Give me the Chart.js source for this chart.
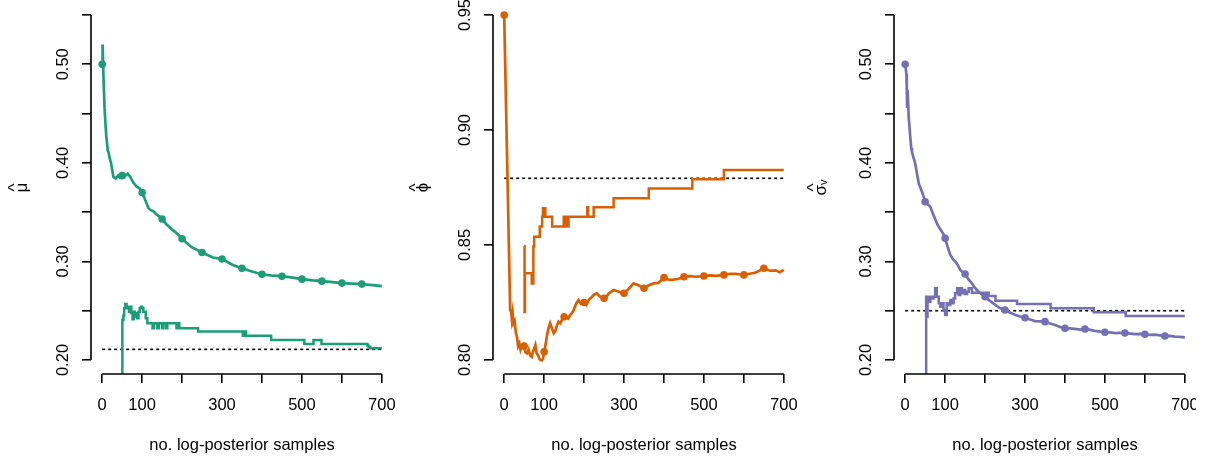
<!DOCTYPE html>
<html>
<head>
<meta charset="utf-8">
<script src="https://cdn.jsdelivr.net/npm/chart.js@4"></script>
<style>
  body { margin: 0; background: #fff; }
  #wrap { position: relative; width: 1210px; height: 457px; overflow: hidden; }
  canvas { position: absolute; top: 0; }
</style>
</head>
<body>
<div id="wrap">
  <canvas id="muChart" width="402" height="457" style="left:0px"></canvas>
  <canvas id="phiChart" width="401" height="457" style="left:402px"></canvas>
  <canvas id="sigmaChart" width="393" height="457" style="left:803px"></canvas>
</div>
<script>
// shared x axis
const xTicks = [0, 100, 200, 300, 400, 500, 600, 700]
const xTickLabels = ['0', '100', '', '300', '', '500', '', '700']
const markerX = [0, 50, 100, 150, 200, 250, 300, 350, 400, 450, 500, 550, 600, 650]

// mu panel
const muYTicks = [0.20, 0.25, 0.30, 0.35, 0.40, 0.45, 0.50, 0.55]
const muYLabels = ['0.20', '', '0.30', '', '0.40', '', '0.50', '']
const muSamples = [0, 1, 3, 6, 10, 14, 16, 18, 22, 28, 34, 40, 44, 50, 58, 64, 70, 78, 86, 94,
  100, 108, 116, 122, 128, 135, 142, 150, 160, 176, 188, 200, 222, 250, 277, 300, 327, 350, 377, 400,
  427, 450, 477, 500, 527, 550, 577, 600, 627, 650, 677, 700]
const muEstimate = [0.500, 0.520, 0.490, 0.455, 0.428, 0.412, 0.411, 0.406, 0.400, 0.386,
  0.384, 0.387, 0.385, 0.387, 0.387, 0.389, 0.386, 0.380, 0.376, 0.374,
  0.370, 0.362, 0.354, 0.352, 0.351, 0.348, 0.346, 0.343, 0.338, 0.332,
  0.328, 0.323, 0.315, 0.309, 0.304, 0.3025, 0.2964, 0.293, 0.2896, 0.287,
  0.2855, 0.285, 0.2835, 0.282, 0.2808, 0.280, 0.279, 0.278, 0.2775, 0.277, 0.276, 0.275]
const muStepSamples = [50, 50.5, 53, 55, 58, 61, 64, 67, 70, 73, 76, 79, 82, 85, 88, 91, 94, 97, 100, 103,
  106, 109, 113, 126, 130, 138, 142, 150, 153, 160, 163, 186, 190, 193, 240, 352, 356, 360, 423, 506,
  529, 549, 664, 667, 671, 700]
const muStep = [0.15, 0.2406, 0.245, 0.2524, 0.2568, 0.2541, 0.2524, 0.249, 0.2541, 0.2475,
  0.2413, 0.249, 0.2475, 0.244, 0.2423, 0.249, 0.2524, 0.2541, 0.2527, 0.249,
  0.249, 0.2423, 0.2372, 0.2321, 0.2372, 0.2321, 0.2372, 0.2321, 0.2372, 0.2321,
  0.2372, 0.2321, 0.2372, 0.2321, 0.2288, 0.2245, 0.2288, 0.2245, 0.2203, 0.2162,
  0.2203, 0.2162, 0.2145, 0.2135, 0.212, 0.212]
const muTrue = 0.2108

// phi panel
const phiYTicks = [0.80, 0.85, 0.90, 0.95]
const phiYLabels = ['0.80', '0.85', '0.90', '0.95']
const phiSamples = [0, 15, 17, 19, 21, 23, 26, 29, 32, 35, 38, 41, 44, 47, 50, 53, 57, 61, 65, 69,
  72, 75, 78, 81, 85, 88, 91, 94, 97, 100, 104, 108, 112, 115, 119, 124, 128, 132, 136, 140,
  145, 150, 155, 160, 165, 170, 174, 180, 186, 192, 200, 206, 212, 220, 226, 232, 240, 250, 256, 262,
  274, 285, 300, 312, 324, 336, 350, 362, 374, 386, 400, 410, 420, 435, 450, 465, 480, 500, 515, 530,
  550, 565, 580, 600, 615, 630, 650, 665, 680, 690, 700]
const phiEstimate = [0.950, 0.8217, 0.822, 0.818, 0.8205, 0.816, 0.817, 0.812, 0.810, 0.806,
  0.8072, 0.8045, 0.806, 0.8058, 0.806, 0.8035, 0.8029, 0.8045, 0.802, 0.8014,
  0.8035, 0.805, 0.8065, 0.803, 0.802, 0.8005, 0.800, 0.7998, 0.8005, 0.8036,
  0.807, 0.8115, 0.8145, 0.816, 0.814, 0.8116, 0.8125, 0.815, 0.8167, 0.816,
  0.8175, 0.8188, 0.8185, 0.818, 0.8195, 0.8205, 0.8217, 0.8245, 0.826, 0.8245,
  0.825, 0.824, 0.8262, 0.8275, 0.8285, 0.829, 0.8275, 0.8268, 0.8275, 0.829,
  0.8304, 0.8298, 0.829, 0.831, 0.8333, 0.8325, 0.8312, 0.8325, 0.8333, 0.8335,
  0.8358, 0.835, 0.8348, 0.8352, 0.8362, 0.8365, 0.8362, 0.8365, 0.8368, 0.8366,
  0.837, 0.8375, 0.8374, 0.837, 0.8375, 0.838, 0.8399, 0.8388, 0.839, 0.8382, 0.8392]
const phiStepSamples = [50, 51, 52, 69, 73, 75, 89, 95, 97, 103, 120, 149, 153, 156, 159, 161,
  208, 210, 224, 274, 362, 471, 550, 700]
const phiStep = [0.8496, 0.8209, 0.8377, 0.8333, 0.8493, 0.8536, 0.858, 0.8623, 0.866, 0.8623,
  0.858, 0.8623, 0.858, 0.8623, 0.858, 0.8623, 0.8664, 0.8623, 0.8664, 0.8703,
  0.8746, 0.8786, 0.8826, 0.8826]
const phiTrue = 0.879

// sigma_v panel
const sigmaYTicks = [0.20, 0.25, 0.30, 0.35, 0.40, 0.45, 0.50, 0.55]
const sigmaYLabels = ['0.20', '', '0.30', '', '0.40', '', '0.50', '']
const sigmaSamples = [0, 3, 4, 5, 6, 9, 12, 15, 17, 21, 25, 30, 34, 38, 42, 46, 50, 56, 63, 68,
  74, 80, 84, 92, 97, 100, 106, 113, 120, 126, 132, 138, 144, 150, 158, 167, 175, 184, 192, 200,
  212, 226, 238, 250, 263, 276, 288, 300, 313, 325, 338, 350, 363, 375, 388, 400, 413, 425, 438, 450,
  463, 475, 488, 500, 513, 525, 538, 550, 563, 575, 588, 600, 613, 625, 638, 650, 663, 675, 688, 700]
const sigmaEstimate = [0.500, 0.490, 0.476, 0.457, 0.474, 0.445, 0.430, 0.415, 0.411, 0.405,
  0.3995, 0.388, 0.379, 0.375, 0.3707, 0.366, 0.3606, 0.358, 0.3555, 0.350,
  0.344, 0.338, 0.3352, 0.3301, 0.327, 0.3234, 0.315, 0.3065, 0.302, 0.2997,
  0.296, 0.2913, 0.289, 0.2872, 0.282, 0.2778, 0.273, 0.2693, 0.2665, 0.2642,
  0.260, 0.2558, 0.2525, 0.2507, 0.248, 0.2457, 0.2442, 0.2429, 0.241, 0.2395,
  0.2392, 0.2389, 0.237, 0.2355, 0.2335, 0.2321, 0.232, 0.2315, 0.2308, 0.2315,
  0.2305, 0.2295, 0.2288, 0.2281, 0.228, 0.2272, 0.2275, 0.2274, 0.2268, 0.2262,
  0.2265, 0.2261, 0.2255, 0.2258, 0.225, 0.2243, 0.2245, 0.2238, 0.2235, 0.223]
const sigmaStepSamples = [52, 52.5, 54, 56, 59, 63, 67, 71, 75, 79, 84, 88, 92, 96, 100, 104, 109, 113, 117, 121,
  125, 130, 134, 138, 142, 146, 150, 155, 159, 167, 209, 226, 280, 364, 472, 552, 700]
const sigmaStep = [0.15, 0.2642, 0.244, 0.2642, 0.2592, 0.2642, 0.2625, 0.2642, 0.2727, 0.2642,
  0.2575, 0.2541, 0.2575, 0.2507, 0.2457, 0.2575, 0.2558, 0.2608, 0.2575, 0.2625,
  0.2676, 0.2727, 0.2659, 0.2727, 0.2676, 0.271, 0.2669, 0.2693, 0.2727, 0.2683,
  0.2649, 0.2602, 0.2568, 0.2524, 0.2484, 0.2447, 0.2447]
const sigmaTrue = 0.25

const FONT = "'Liberation Sans', Arial, Helvetica, sans-serif"
const pts = (xs, ys) => xs.map((x, i) => ({ x: x, y: ys[i] }))

// R style axes: line only from first to last tick
const rAxes = {
  id: 'rAxes',
  afterDraw(chart) {
    const { ctx, chartArea, scales } = chart
    const x = scales.x, y = scales.y
    const yt = y.ticks
    ctx.save()
    ctx.strokeStyle = '#000'
    ctx.lineWidth = 1.6
    ctx.beginPath()
    ctx.moveTo(x.getPixelForValue(xTicks[0]), chartArea.bottom)
    ctx.lineTo(x.getPixelForValue(xTicks[xTicks.length - 1]), chartArea.bottom)
    ctx.moveTo(chartArea.left, y.getPixelForValue(yt[0].value))
    ctx.lineTo(chartArea.left, y.getPixelForValue(yt[yt.length - 1].value))
    ctx.stroke()
    ctx.restore()
  }
}

function makeChart(id, p) {
  const canvas = document.getElementById(id)
  const w = canvas.width
  return new Chart(canvas.getContext('2d'), {
    type: 'line',
    data: {
      datasets: [
        {
          data: pts(p.samples, p.estimate),
          borderColor: p.color,
          backgroundColor: p.color,
          borderWidth: 2.7,
          pointRadius: c => (markerX.includes(c.raw.x) ? 3.8 : 0),
          pointBorderWidth: 0,
          pointBackgroundColor: p.color,
          tension: 0
        },
        {
          data: pts(p.stepSamples, p.step),
          borderColor: p.color,
          borderWidth: 2.5,
          pointRadius: 0,
          stepped: true
        },
        {
          data: pts([0, 700], [p.truth, p.truth]),
          borderColor: '#000',
          borderWidth: 1.6,
          borderDash: [3, 3],
          pointRadius: 0
        }
      ]
    },
    options: {
      responsive: false,
      animation: false,
      events: [],
      layout: { autoPadding: false, padding: { left: 0, right: w - 393, top: 1, bottom: 0 } },
      plugins: { legend: { display: false }, tooltip: { enabled: false } },
      scales: {
        x: {
          type: 'linear',
          min: -28,
          max: 728,
          afterBuildTicks: s => { s.ticks = xTicks.map(v => ({ value: v })) },
          afterFit: s => { s.height = 457 - 374; s.paddingLeft = 0; s.paddingRight = 0 },
          border: { display: false },
          grid: { drawOnChartArea: false, drawTicks: true, tickLength: 9, color: '#000', lineWidth: 1.6 },
          ticks: {
            autoSkip: false, maxRotation: 0, minRotation: 0, padding: 13, color: '#000',
            font: { family: FONT, size: 16.5 },
            callback: (v, i) => xTickLabels[i]
          },
          title: {
            display: true, text: 'no. log-posterior samples', color: '#000',
            font: { family: FONT, size: 16.5 }, padding: { top: 0, bottom: 2 }
          }
        },
        y: {
          type: 'linear',
          min: p.yMin,
          max: p.yMax,
          afterBuildTicks: s => { s.ticks = p.yTicks.map(v => ({ value: v })) },
          afterFit: s => { s.width = 91; s.paddingTop = 0; s.paddingBottom = 0 },
          border: { display: false },
          grid: { drawOnChartArea: false, drawTicks: true, tickLength: 9, color: '#000', lineWidth: 1.6 },
          ticks: {
            autoSkip: false, minRotation: 90, maxRotation: 90, crossAlign: 'center', padding: 2, color: '#000',
            font: { family: FONT, size: 16.5 },
            callback: (v, i) => p.yLabels[i]
          },
          title: {
            display: true, text: p.title, color: '#000',
            font: { family: FONT, size: 17, lineHeight: 0.42 }, padding: { top: p.titlePad, bottom: 0 }
          }
        }
      }
    },
    plugins: [rAxes]
  })
}

makeChart('muChart', {
  samples: muSamples, estimate: muEstimate, stepSamples: muStepSamples, step: muStep, truth: muTrue,
  yTicks: muYTicks, yLabels: muYLabels, yMin: 0.1858, yMax: 0.5642, color: '#1B9E77',
  title: ['^', 'μ'], titlePad: 12
})
makeChart('phiChart', {
  samples: phiSamples, estimate: phiEstimate, stepSamples: phiStepSamples, step: phiStep, truth: phiTrue,
  yTicks: phiYTicks, yLabels: phiYLabels, yMin: 0.7939, yMax: 0.9561, color: '#D95F02',
  title: ['^', 'ϕ'], titlePad: 11
})
makeChart('sigmaChart', {
  samples: sigmaSamples, estimate: sigmaEstimate, stepSamples: sigmaStepSamples, step: sigmaStep, truth: sigmaTrue,
  yTicks: sigmaYTicks, yLabels: sigmaYLabels, yMin: 0.1858, yMax: 0.5642, color: '#7570B3',
  title: ['^', 'σ\u1D65'], titlePad: 8
})
</script>
</body>
</html>
